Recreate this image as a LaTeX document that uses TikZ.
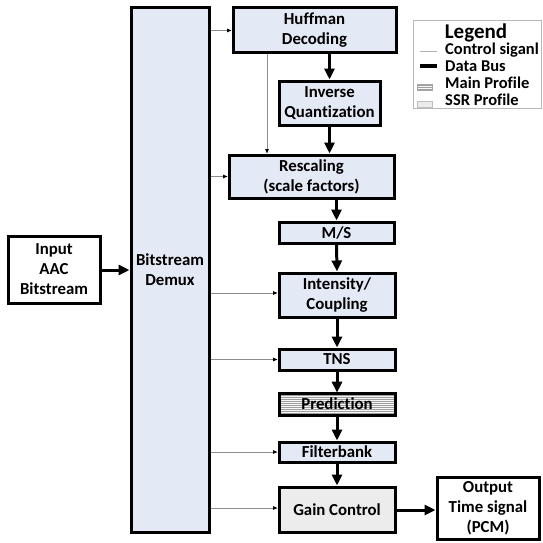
\documentclass[tikz,border=0pt]{standalone}
\usepackage{fontspec}
\setmainfont[Ligatures=NoCommon]{Carlito}
\usetikzlibrary{arrows.meta,patterns.meta}

\definecolor{boxfill}{HTML}{E4EAF5}
\definecolor{ctrlgray}{HTML}{8C8C8C}

\begin{document}
\begin{tikzpicture}[x=1pt,y=-1pt,
  every node/.style={font=\fontsize{16.8}{20}\selectfont\bfseries},
  blk/.style={draw, line width=3pt, fill=boxfill, inner sep=0pt, align=center},
  plainblk/.style={blk, fill=white},
  size/.style 2 args={minimum width=#1pt, minimum height=#2pt},
  mainpat/.style={preaction={fill=gray!6}, pattern={Lines[angle=0,distance=2pt,line width=0.6pt]}, pattern color=gray!75},
  ssrpat/.style={preaction={fill=gray!10}, pattern={Dots[distance=2pt,radius=0.4pt]}, pattern color=gray!65},
  data/.style={line width=3pt, -{Triangle[length=11pt,width=10pt]}},
  ctrl/.style={line width=0.8pt, draw=ctrlgray, -{Triangle[length=4.5pt,width=3.5pt,color=black]}},
  legtext/.style={anchor=west, inner sep=0pt, font=\fontsize{16.5}{18}\selectfont\bfseries}
]
\useasboundingbox (0,0) rectangle (542,543);

% main blocks
\node[blk, size={78}{524}] (demux) at (170,270) {Bitstream\\Demux};
\node[plainblk, size={92}{67}] (input) at (54,269.5) {Input\\AAC\\Bitstream};
\node[blk, size={163}{45}] (huff) at (314.5,30.5) {Huffman\\Decoding};
\node[blk, size={101}{44}] (iq) at (329.5,103) {Inverse\\Quantization};
\node[blk, size={165}{43}] (resc) at (311.5,176.5) {Rescaling\\(scale factors)};
\node[blk, size={115}{21}] (ms) at (336.5,232.5) {M/S};
\node[blk, size={116}{44}] (ic) at (337,295) {Intensity/\\Coupling};
\node[blk, size={116}{21}] (tns) at (337,359.5) {TNS};
\node[blk, mainpat, size={116}{22}] (pred) at (337,404) {Prediction};
\node[blk, size={116}{20}] (fb) at (337,452) {Filterbank};
\node[blk, ssrpat, size={116}{45}] (gc) at (337,509.5) {Gain Control};
\node[plainblk, size={102}{62}] (out) at (488,508.5) {Output\\Time signal\\(PCM)};

% data bus
\draw[data] (input.east |- 0,270) -- (demux.west |- 0,270);
\draw[data] (huff.south -| iq.north) -- (iq.north);
\draw[data] (iq.south) -- (iq.south |- resc.north);
\draw[data] (ms.north |- resc.south) -- (ms.north);
\draw[data] (ms.south) -- (ic.north);
\draw[data] (ic.south) -- (tns.north);
\draw[data] (tns.south) -- (pred.north);
\draw[data] (pred.south) -- (fb.north);
\draw[data] (fb.south) -- (gc.north);
\draw[data] (gc.east |- 0,510) -- (out.west |- 0,510);

% control signals
\coordinate (tap) at (267,0);
\draw[ctrl] (demux.east |- huff.west) -- (huff.west);
\draw[ctrl] (demux.east |- resc.west) -- (resc.west);
\draw[ctrl] (demux.east |- 0,293) -- (ic.west |- 0,293);
\draw[ctrl] (demux.east |- tns.west) -- (tns.west);
\draw[ctrl] (demux.east |- fb.west) -- (fb.west);
\draw[ctrl] (demux.east |- 0,508) -- (gc.west |- 0,508);
\draw[ctrl] (huff.south -| tap) -- (resc.north -| tap);

% legend
\node[draw=gray!55, line width=0.8pt, fill=white, minimum width=128pt, minimum height=88pt, inner sep=0pt] (legend) at (477,64) {};
\node[inner sep=0pt, font=\fontsize{21}{24}\selectfont\bfseries] (legtitle) at (476,33) {Legend};
\node[legtext] (lctrl) at (445,50) {Control siganl};
\node[legtext] (ldata) at (445,66) {Data Bus};
\node[legtext] (lmain) at (445,83) {Main Profile};
\node[legtext] (lssr) at (445,100) {SSR Profile};
\draw[line width=0.8pt, draw=gray!60] ([xshift=-25pt,yshift=-1pt]lctrl.west) -- ([xshift=-8pt,yshift=-1pt]lctrl.west);
\draw[line width=3pt] ([xshift=-25pt]ldata.west) -- ([xshift=-8pt]ldata.west);
\path[mainpat, draw=gray!70, line width=0.5pt] ([xshift=-28pt,yshift=-1pt]lmain.west) rectangle ([xshift=-13pt,yshift=-7pt]lmain.west);
\path[ssrpat, draw=gray!50, line width=0.5pt] ([xshift=-28pt,yshift=-1pt]lssr.west) rectangle ([xshift=-13pt,yshift=-7pt]lssr.west);
\end{tikzpicture}
\end{document}
